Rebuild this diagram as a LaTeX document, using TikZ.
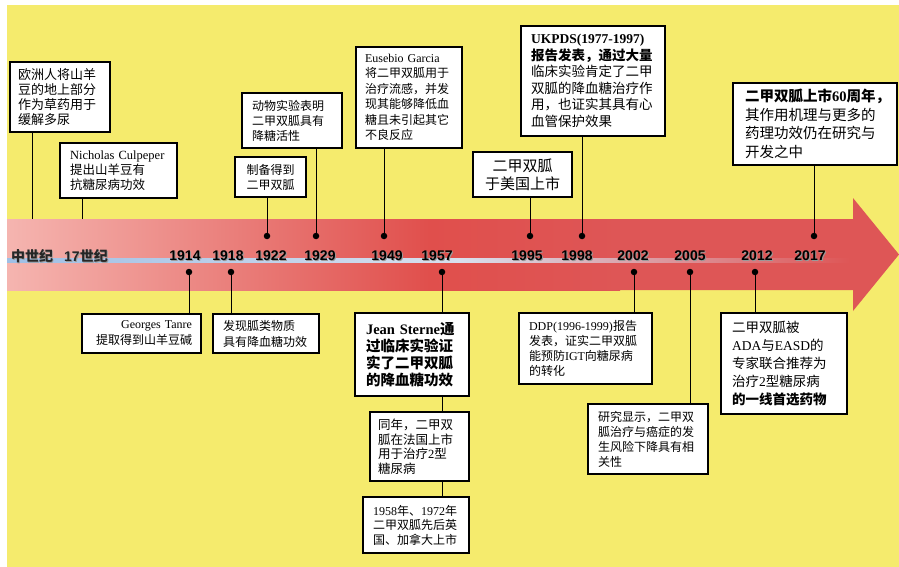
\documentclass[tikz,border=0pt]{standalone}
\usepackage{fontspec}
\setmainfont{Noto Sans CJK SC}
\newfontfamily\latf{Liberation Serif}
\newfontfamily\yrf{Liberation Sans}
\newcommand\la[1]{{\latf #1}}
\newcommand\fs[2]{\fontsize{#1}{#2}\selectfont}
\newcommand\shtxt[1]{\makebox[0pt][l]{\hspace{1pt}\raisebox{-1pt}{\color{black!40}#1}}{#1}}
\definecolor{bgyel}{HTML}{F5EB6D}
\definecolor{pinkl}{HTML}{F5B5B0}
\definecolor{redm}{HTML}{E04F4C}
\definecolor{redr}{HTML}{DE5656}
\definecolor{bluel}{HTML}{9EBFE5}
\definecolor{bluew}{HTML}{D8E0EE}
\begin{document}
\begin{tikzpicture}[x=1pt,y=-1pt,
  evbox/.style={draw=black, line width=1.2pt, fill=white, inner ysep=0pt, align=left, font=\fs{12}{15}},
  tdot/.style={circle, fill=black, inner sep=0pt, minimum size=6.5pt},
  yr/.style={font=\yrf\bfseries\fs{14}{14}, anchor=base, inner sep=0pt},
  yrc/.style={font=\bfseries\fs{14}{14}, text=black!85, anchor=base, inner sep=0pt},
  link/.style={line width=1pt, draw=black}]
\useasboundingbox (0,0) rectangle (899,567);
\fill[white] (0,0) rectangle (899,567);
\fill[bgyel] (7,5) rectangle (899,567);
% arrow
\fill[redr] (7,219) -- (853,219) -- (853,198) -- (899,254.5) -- (853,311) -- (853,290) -- (7,290) -- cycle;
\shade[left color=pinkl, right color=redm] (7,219) rectangle (430,290);
\shade[left color=redm, right color=redr] (429.5,219) rectangle (620,290);
% light line
\shade[left color=bluel, right color=bluew] (7,258) rectangle (460,262);
\shade[left color=bluew, right color=redr] (459.5,258) rectangle (850,262);

% dots
\node[tdot] (d1922) at (267,236) {};
\node[tdot] (d1929) at (316,236) {};
\node[tdot] (d1949) at (384,236) {};
\node[tdot] (d1995) at (530,236) {};
\node[tdot] (d1998) at (582,236) {};
\node[tdot] (d2017) at (814,236) {};
\node[tdot] (d1914) at (189,272) {};
\node[tdot] (d1918) at (231,272) {};
\node[tdot] (d1957) at (442,272) {};
\node[tdot] (d2002) at (634,272) {};
\node[tdot] (d2005) at (690,272) {};
\node[tdot] (d2012) at (755,272) {};
\coordinate (m1) at (32,219);
\coordinate (m2) at (82,219);

% year labels
\node[yrc] (ymid) at (32,261) {\shtxt{中世纪}};
\node[yrc] (y17) at (86,261) {\shtxt{{\yrf 17}世纪}};
\node[yr] (y1914) at (185,260) {\shtxt{1914}};
\node[yr] (y1918) at (228,260) {\shtxt{1918}};
\node[yr] (y1922) at (271,260) {\shtxt{1922}};
\node[yr] (y1929) at (320,260) {\shtxt{1929}};
\node[yr] (y1949) at (387,260) {\shtxt{1949}};
\node[yr] (y1957) at (437,260) {\shtxt{1957}};
\node[yr] (y1995) at (527,260) {\shtxt{1995}};
\node[yr] (y1998) at (577,260) {\shtxt{1998}};
\node[yr] (y2002) at (633,260) {\shtxt{2002}};
\node[yr] (y2005) at (690,260) {\shtxt{2005}};
\node[yr] (y2012) at (757,260) {\shtxt{2012}};
\node[yr] (y2017) at (810,260) {\shtxt{2017}};

% top boxes
\node[evbox, font=\fs{13}{15}, text width=84pt, inner xsep=8pt, minimum height=70pt] (A) at (60,97)
  {欧洲人将山羊\\豆的地上部分\\作为草药用于\\缓解多尿};
\node[evbox, font=\fs{12.5}{15}, text width=97pt, inner xsep=10pt, minimum height=55pt] (B) at (118.5,170.5)
  {\la{Nicholas Culpeper}\\提出山羊豆有\\抗糖尿病功效};
\node[evbox, align=center, text width=55pt, inner xsep=8pt, minimum height=40pt] (C) at (270.5,177)
  {制备得到\\二甲双胍};
\node[evbox, text width=80pt, inner xsep=10pt, minimum height=55pt] (D) at (292,120.5)
  {动物实验表明\\二甲双胍具有\\降糖活性};
\node[evbox, font=\fs{12}{15.5}, text width=88pt, inner xsep=9pt, minimum height=101pt] (E) at (409,97.5)
  {\la{Eusebio Garcia}\\将二甲双胍用于\\治疗流感，并发\\现其能够降低血\\糖且未引起其它\\不良反应};
\node[evbox, align=center, font=\fs{15}{18}, text width=85pt, inner xsep=7pt, minimum height=45pt] (F) at (522.5,174.5)
  {二甲双胍\\于美国上市};
\node[evbox, font=\fs{13.5}{16.5}, text width=124pt, inner xsep=10pt, minimum height=110pt] (G) at (593,81)
  {\textbf{\la{UKPDS(1977-1997)}}\\\textbf{报告发表，通过大量}\\临床实验肯定了二甲\\双胍的降血糖治疗作\\用，也证实其具有心\\血管保护效果};
\node[evbox, font=\fs{14.5}{18.5}, text width=140pt, inner xsep=12pt, minimum height=82pt] (H) at (815,124)
  {\textbf{二甲双胍上市\la{60}周年，}\\其作用机理与更多的\\药理功效仍在研究与\\开发之中};

% bottom boxes
\node[evbox, align=right, text width=101pt, inner xsep=9pt, minimum height=39pt, font=\fs{12}{16}] (I) at (141.5,333.5)
  {\la{Georges Tanre}\\提取得到山羊豆碱};
\node[evbox, text width=86pt, inner xsep=10pt, minimum height=39pt, font=\fs{12}{16}] (J) at (266,333.5)
  {发现胍类物质\\具有降血糖功效};
\node[evbox, font=\bfseries\fs{14.5}{17}, text width=92pt, inner xsep=11pt, minimum height=83pt] (K) at (412,354.5)
  {\la{Jean Sterne}通\\过临床实验证\\实了二甲双胍\\的降血糖功效};
\node[evbox, font=\fs{12.5}{14.5}, text width=83pt, inner xsep=8pt, minimum height=69pt] (L) at (419.5,446.5)
  {同年，二甲双\\胍在法国上市\\用于治疗\la{2}型\\糖尿病};
\node[evbox, font=\fs{12}{14.5}, text width=86pt, inner xsep=10pt, minimum height=56pt] (M) at (416,525)
  {\la{1958}年、\la{1972}年\\二甲双胍先后英\\国、加拿大上市};
\node[evbox, text width=113pt, inner xsep=10pt, minimum height=71pt] (N) at (585.5,348.5)
  {\la{DDP(1996-1999)}报告\\发表，证实二甲双胍\\能预防\la{IGT}向糖尿病\\的转化};
\node[evbox, text width=100pt, inner xsep=10pt, minimum height=70pt] (O) at (648,439)
  {研究显示，二甲双\\胍治疗与癌症的发\\生风险下降具有相\\关性};
\node[evbox, font=\fs{13.5}{18}, text width=104pt, inner xsep=11pt, minimum height=101pt] (P) at (784,363.5)
  {二甲双胍被\\\la{ADA}与\la{EASD}的\\专家联合推荐为\\治疗\la{2}型糖尿病\\\textbf{的一线首选药物}};

% connectors
\draw[link] (A.south -| m1) -- (m1);
\draw[link] (B.south -| m2) -- (m2);
\draw[link] (C.south -| d1922) -- (d1922);
\draw[link] (D.south -| d1929) -- (d1929);
\draw[link] (E.south -| d1949) -- (d1949);
\draw[link] (F.south -| d1995) -- (d1995);
\draw[link] (G.south -| d1998) -- (d1998);
\draw[link] (H.south -| d2017) -- (d2017);
\draw[link] (d1914) -- (d1914 |- I.north);
\draw[link] (d1918) -- (d1918 |- J.north);
\draw[link] (d1957) -- (d1957 |- K.north);
\draw[link] (d1957 |- K.south) -- (d1957 |- L.north);
\draw[link] (d1957 |- L.south) -- (d1957 |- M.north);
\draw[link] (d2002) -- (d2002 |- N.north);
\draw[link] (d2005) -- (d2005 |- O.north);
\draw[link] (d2012) -- (d2012 |- P.north);
\end{tikzpicture}
\end{document}
